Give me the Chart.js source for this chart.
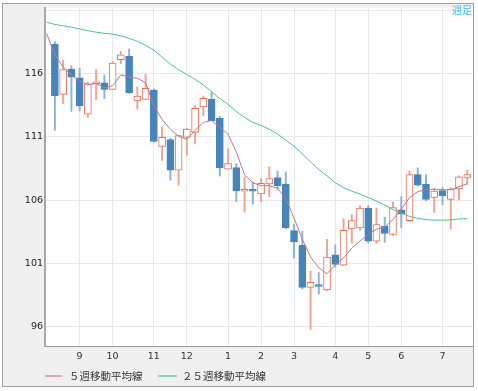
<!DOCTYPE html>
<html lang="ja">
<head>
  <meta charset="UTF-8">
  <title>週足チャート</title>
  <script src="https://cdn.jsdelivr.net/npm/chart.js"></script>
  <style>
    body { margin: 0; background: #fff; }
    #chart { display: block; }
  </style>
</head>
<body>
  <canvas id="chart" width="478" height="391"></canvas>

  <script>
  // weekly OHLC, week 0 .. 50
  const opens  = [118.35,114.38,116.39,115.69,112.81,115.22,115.29,114.77,117.12,117.39,
                  113.86,113.98,114.72,110.25,110.8,108.37,110.98,111.37,113.39,113.98,
                  112.5,108.45,108.57,106.70,106.74,106.49,107.27,107.79,107.27,103.58,
                  102.43,99.08,99.25,98.88,101.65,100.84,103.71,103.79,105.36,102.75,
                  103.92,103.27,105.23,104.37,108.02,107.24,106.2,106.75,106.06,106.88,107.79];
  const highs  = [118.56,117.07,116.65,116.47,115.35,116.34,115.9,117.0,117.78,117.96,
                  114.98,115.95,114.82,111.76,110.9,111.16,111.7,113.51,114.25,114.56,
                  112.63,110.06,108.89,107.84,107.45,107.71,108.63,108.29,108.24,104.1,
                  103.53,100.34,100.26,102.88,102.45,104.52,104.84,105.57,105.57,105.36,
                  104.63,105.83,106.27,108.29,108.55,108.02,106.93,106.98,106.98,107.92,108.37];
  const lows   = [111.55,113.65,113.02,113.07,112.55,113.98,114.04,114.77,116.81,114.45,
                  113.2,113.98,110.59,109.15,107.58,107.19,109.55,110.45,112.68,112.29,
                  107.92,108.45,105.88,105.04,105.67,105.88,106.27,106.8,103.74,101.39,
                  98.96,95.74,98.56,98.82,100.7,100.8,102.61,103.61,102.61,102.56,
                  102.67,103.19,103.84,104.31,107.11,105.96,105.02,105.62,103.71,106.02,107.24];
  const closes = [114.25,116.34,115.74,113.47,115.22,115.35,114.77,116.86,117.51,114.51,
                  114.25,114.85,110.64,110.98,108.37,111.11,111.63,113.28,114.06,112.29,
                  108.55,108.89,106.72,106.74,106.70,107.32,107.71,107.14,103.79,102.69,
                  99.08,99.47,99.15,101.47,100.9,103.61,104.37,105.36,102.75,104.06,
                  103.35,105.41,104.88,108.02,107.19,106.06,106.72,106.33,106.85,107.84,108.02];

  // moving averages, week -1 .. 50
  const ma5  = [119.2,117.5,116.55,115.92,115.45,115.14,115.25,114.9,115.06,115.92,115.76,
                115.65,115.3,113.49,112.39,111.61,111.06,110.82,111.53,112.16,112.31,
                111.76,111.22,109.8,108.0,107.37,107.14,107.14,106.93,106.12,104.57,
                102.9,101.49,100.63,100.16,100.86,101.41,102.2,102.75,103.29,103.69,
                103.84,104.47,105.25,106.2,106.67,106.82,106.86,106.82,106.82,107.06,107.29];
  const ma25 = [120.1,119.92,119.82,119.7,119.57,119.43,119.31,119.22,119.16,119.02,118.82,
                118.59,118.27,117.88,117.33,116.78,116.34,115.95,115.57,115.14,114.59,
                114.04,113.59,113.02,112.55,112.16,111.92,111.61,111.24,110.75,110.27,
                109.67,109.02,108.43,107.92,107.37,106.98,106.71,106.47,106.2,105.92,
                105.61,105.25,104.98,104.71,104.55,104.45,104.41,104.41,104.43,104.51,104.53];

  const monthTicks  = [3, 7, 12, 16, 21, 25, 29, 34, 38, 42, 47];
  const monthLabels = ['9','10','11','12','1','2','3','4','5','6','7'];
  const yTicks = [96, 101, 106, 111, 116, 121];

  const BLUE = '#4784ba', BLUE_WICK = '#8db3d8';
  const RED = '#e07058', RED_WICK = '#eda493';

  const up = opens.map((o, i) => closes[i] >= o);

  const wickData = highs.map((h, i) => ({ x: i, y: [lows[i], h] }));
  const bodyData = opens.map((o, i) => ({ x: i, y: [o, closes[i]] }));
  const ma5Data  = ma5.map((v, i) => ({ x: i - 1, y: v }));
  const ma25Data = ma25.map((v, i) => ({ x: i - 1, y: v }));

  const framePlugin = {
    id: 'frame',
    beforeDraw(chart) {
      const { ctx, chartArea: a } = chart;
      ctx.save();
      ctx.fillStyle = '#f0f0f0';
      ctx.fillRect(3, 4, 470, 383);
      ctx.fillStyle = '#fff';
      ctx.fillRect(a.left, a.top, a.right - a.left, a.bottom - a.top);
      ctx.strokeStyle = '#a0a0a0';
      ctx.lineWidth = 1;
      ctx.strokeRect(2.5, 3.5, 471, 383);
      ctx.restore();
    },
    afterDraw(chart) {
      const { ctx } = chart;
      ctx.save();
      // legend
      ctx.font = '10.5px "Noto Sans CJK JP"';
      ctx.textBaseline = 'middle';
      ctx.lineWidth = 2;
      ctx.strokeStyle = '#dca6bc';
      ctx.beginPath(); ctx.moveTo(45, 376); ctx.lineTo(62, 376); ctx.stroke();
      ctx.strokeStyle = '#86d8b2';
      ctx.beginPath(); ctx.moveTo(158, 376); ctx.lineTo(177, 376); ctx.stroke();
      ctx.fillStyle = '#333';
      ctx.fillText('５週移動平均線', 69, 376);
      ctx.fillText('２５週移動平均線', 182, 376);
      // period mark
      ctx.font = '10px "Noto Sans CJK JP"';
      ctx.fillStyle = '#3cbcf0';
      ctx.textAlign = 'right';
      ctx.fillText('週足', 472, 10);
      ctx.restore();
    }
  };

  new Chart(document.getElementById('chart'), {
    data: {
      datasets: [
        { type: 'line', label: '５週移動平均線', data: ma5Data, borderColor: '#c57590',
          borderWidth: 1, pointRadius: 0, tension: 0, order: 1 },
        { type: 'line', label: '２５週移動平均線', data: ma25Data, borderColor: '#4cc68e',
          borderWidth: 1, pointRadius: 0, tension: 0, order: 1 },
        { type: 'bar', data: bodyData, grouped: false, barThickness: 7, minBarLength: 2,
          backgroundColor: up.map(u => u ? '#fff' : BLUE),
          borderColor: up.map(u => u ? RED : BLUE),
          borderWidth: 1, borderSkipped: false, order: 2 },
        { type: 'bar', data: wickData, grouped: false, barThickness: 1.3,
          backgroundColor: up.map(u => u ? RED_WICK : BLUE_WICK),
          borderWidth: 0, order: 3 }
      ]
    },
    options: {
      responsive: false,
      animation: false,
      devicePixelRatio: 1,
      layout: { padding: { left: 0, top: 4, right: 5, bottom: 0 } },
      plugins: { legend: { display: false }, tooltip: { enabled: false } },
      scales: {
        x: {
          type: 'linear', min: -1.2, max: 50.7, offset: false,
          grid: { color: '#e8e8e8', offset: false, drawTicks: false },
          border: { color: '#999', width: 1 },
          afterBuildTicks: s => { s.ticks = monthTicks.map(v => ({ value: v })); },
          afterFit: s => { s.height = 45; },
          ticks: {
            padding: 5, color: '#333', maxRotation: 0, autoSkip: false,
            font: { family: 'DejaVu Sans', size: 9.5 },
            callback: v => monthLabels[monthTicks.indexOf(v)]
          }
        },
        y: {
          min: 94.43, max: 121.25,
          grid: { color: '#e8e8e8', drawTicks: false },
          border: { color: '#a8a8a8', width: 2 },
          afterBuildTicks: s => { s.ticks = yTicks.map(v => ({ value: v })); },
          afterFit: s => { s.width = 45; },
          ticks: {
            padding: 2, color: '#222',
            font: { family: 'DejaVu Sans', size: 9.5 },
            callback: v => (v === 121 ? '' : v)
          }
        }
      }
    },
    plugins: [framePlugin]
  });
  </script>
</body>
</html>
